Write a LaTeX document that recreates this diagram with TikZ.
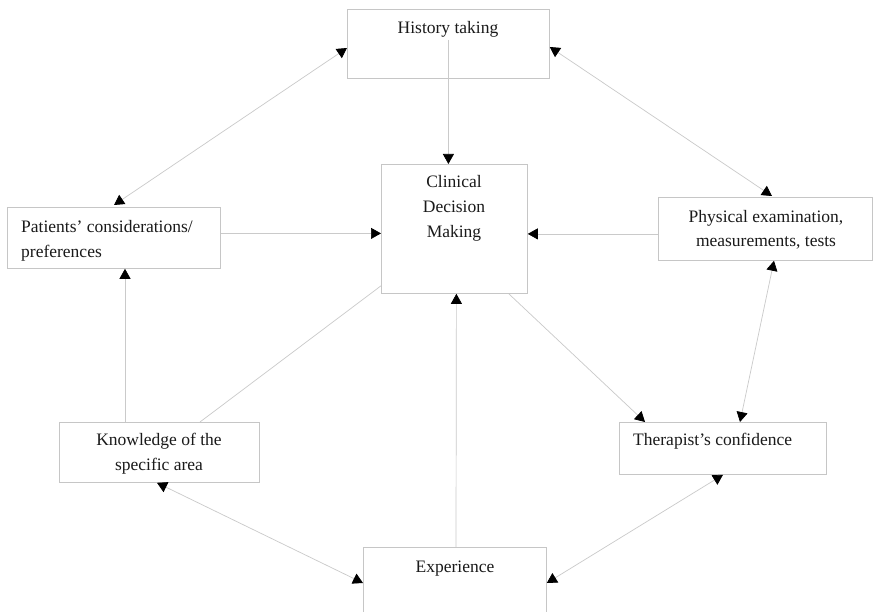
\documentclass[tikz,border=0pt]{standalone}
\usepackage{fontspec}
\setmainfont{Liberation Serif}
\usetikzlibrary{arrows.meta,calc}
\definecolor{boxgray}{HTML}{C6C6C6}
\definecolor{linegray}{HTML}{CACACA}
\definecolor{txtcol}{HTML}{1A1A1A}
\begin{document}
\begin{tikzpicture}[x=1pt,y=-1pt,
  box/.style={draw=boxgray, line width=0.8pt, inner sep=0pt, anchor=north west, fill=white},
  txtc/.style={anchor=base, inner sep=0pt, text=txtcol, font=\fontsize{17.5}{25}\selectfont},
  txtl/.style={anchor=base west, inner sep=0pt, text=txtcol, font=\fontsize{17.5}{25}\selectfont},
  conn/.style={draw=linegray, line width=0.7pt},
  onearrow/.style={conn, -{Triangle[length=10pt,width=11pt,color=black]}},
  twoarrow/.style={conn, {Triangle[length=10pt,width=11pt,color=black]}-{Triangle[length=10pt,width=11pt,color=black]}}]
\useasboundingbox (0,0) rectangle (873,612);
\clip (0,0) rectangle (873,612);
\fill[white] (0,0) rectangle (873,612);

% boxes
\node[box, minimum width=202pt, minimum height=69pt] (hist) at (347,9) {};
\node[box, minimum width=146pt, minimum height=129pt] (cdm) at (381,164) {};
\node[box, minimum width=213pt, minimum height=61pt] (pat) at (7,207) {};
\node[box, minimum width=214pt, minimum height=63pt] (phys) at (658,197) {};
\node[box, minimum width=200pt, minimum height=60pt] (know) at (59,422) {};
\node[box, minimum width=207pt, minimum height=52pt] (ther) at (619,422) {};
\node[box, minimum width=183pt, minimum height=80pt] (exp) at (363,547) {};

% texts
\node[txtc] (histt) at (448,34) {History taking};
\node[txtc] (cdm1) at (454,188) {Clinical};
\node[txtc] (cdm2) at (454,213) {Decision};
\node[txtc] (cdm3) at (454,238) {Making};
\node[txtl] (pat1) at (21,233) {Patients’ considerations/};
\node[txtl] (pat2) at (21,258) {preferences};
\node[txtc] (phys1) at (766,223) {Physical examination,};
\node[txtc] (phys2) at (766,247) {measurements, tests};
\node[txtc] (know1) at (159,445) {Knowledge of the};
\node[txtc] (know2) at (159,470) {specific area};
\node[txtl] (thert) at (633,445) {Therapist’s confidence};
\node[txtc] (expt) at (455,572) {Experience};

% connectors
\draw[twoarrow] ([xshift=107pt,yshift=2pt]pat.north west) -- ([yshift=-39pt]hist.north west);
\draw[twoarrow] ([yshift=-38pt]hist.north east) -- ([xshift=114pt,yshift=1pt]phys.north west);
\draw[onearrow] ([yshift=4pt]hist.center) -- ([xshift=-6pt]cdm.north);
\draw[onearrow] ([yshift=4.5pt]pat.east) -- ([yshift=-4.5pt]cdm.west);
\draw[onearrow] ([yshift=-5pt]phys.west) -- ([yshift=-5pt]cdm.east);
\draw[onearrow] ([xshift=66pt]know.north west) -- ([xshift=118pt]pat.south west);
\draw[conn] ([xshift=141pt]know.north west) -- ([yshift=8pt]cdm.south west);
\draw[onearrow] ([xshift=93pt]exp.north west) -- ([xshift=2pt]cdm.south);
\draw[onearrow] ([xshift=-19pt]cdm.south east) -- ([xshift=26pt]ther.north west);
\draw[twoarrow] ([xshift=116pt]phys.south west) -- ([xshift=121pt]ther.north west);
\draw[twoarrow] ([xshift=98pt]know.south west) -- ([yshift=-36pt]exp.north west);
\draw[twoarrow] ([xshift=104pt]ther.south west) -- ([yshift=-36pt]exp.north east);
\end{tikzpicture}
\end{document}
